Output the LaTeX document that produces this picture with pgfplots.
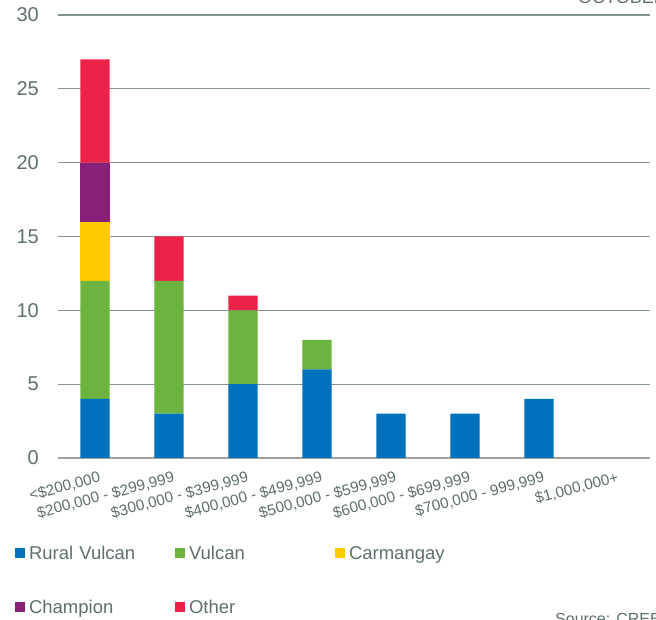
\documentclass[border=0pt]{standalone}
\usepackage{pgfplots}
\pgfplotsset{compat=1.18}
\usepackage{fontspec}
\setmainfont{Liberation Sans}
\definecolor{cBlue}{RGB}{0,114,188}
\definecolor{cGreen}{RGB}{109,179,63}
\definecolor{cYellow}{RGB}{255,204,0}
\definecolor{cPurple}{RGB}{137,32,120}
\definecolor{cRed}{RGB}{237,34,72}
\definecolor{txtgray}{RGB}{95,110,110}
\definecolor{gridgray}{RGB}{130,148,142}
\definecolor{axgray}{RGB}{160,160,160}
\begin{document}
\begin{tikzpicture}[x=1pt,y=1pt]
\useasboundingbox (0,0) rectangle (656,620);
\clip (0,0) rectangle (656,620);
\node[anchor=base west, text=txtgray, font=\fontsize{18pt}{20pt}\selectfont, inner sep=0pt] at (578,616.5) {OCTOBER 2017};
\node[anchor=base west, text=txtgray, font=\fontsize{16pt}{18pt}\selectfont, inner sep=0pt] at (555,-4.5) {Source: CREB};
\begin{axis}[
  at={(58pt,162pt)}, anchor=south west,
  scale only axis, width=592pt, height=443pt,
  xmin=-0.5, xmax=7.5, ymin=0, ymax=30,
  ybar stacked, bar width=29.3pt,
  xtick={0,...,7},
  xticklabels={{<\$200,000},{\$200,000 - \$299,999},{\$300,000 - \$399,999},{\$400,000 - \$499,999},{\$500,000 - \$599,999},{\$600,000 - \$699,999},{\$700,000 - 999,999},{\$1,000,000+}},
  xticklabel style={anchor=north east, rotate=15, inner sep=0pt, yshift=-13pt, font=\fontsize{15.3pt}{17pt}\selectfont, text=txtgray},
  ytick={0,5,...,30},
  yticklabel style={anchor=east, inner sep=0pt, xshift=-19pt, font=\fontsize{20pt}{22pt}\selectfont, text=txtgray},
  major tick length=0pt, tick style={draw=none},
  ymajorgrids, grid style={color=gridgray, line width=1.2pt},
  axis lines*=left,
  y axis line style={draw=none},
  x axis line style={color=axgray, line width=1.6pt},
  legend columns=3,
  legend style={at={(axis description cs:-0.0726,-0.197)}, anchor=north west,
    draw=none, fill=none, inner sep=0pt, outer sep=0pt,
    font=\fontsize{18.5pt}{20pt}\selectfont, text=txtgray,
    nodes={inner sep=0pt, text height=14pt, text depth=4pt},
    row sep=36pt,
    /tikz/every odd column/.append style={column sep=4pt},
    /tikz/every even column/.append style={text width=146pt}},
  legend image code/.code={\fill[#1] (0pt,-4pt) rectangle (10pt,6pt);},
  /pgf/number format/assume math mode=true,
]
\addplot[fill=cBlue, draw=none] coordinates {(0,4) (1,3) (2,5) (3,6) (4,3) (5,3) (6,4) (7,0)};
\addplot[fill=cGreen, draw=none] coordinates {(0,8) (1,9) (2,5) (3,2) (4,0) (5,0) (6,0) (7,0)};
\addplot[fill=cYellow, draw=none] coordinates {(0,4) (1,0) (2,0) (3,0) (4,0) (5,0) (6,0) (7,0)};
\addplot[fill=cPurple, draw=none] coordinates {(0,4) (1,0) (2,0) (3,0) (4,0) (5,0) (6,0) (7,0)};
\addplot[fill=cRed, draw=none] coordinates {(0,7) (1,3) (2,1) (3,0) (4,0) (5,0) (6,0) (7,0)};
\legend{Rural Vulcan, Vulcan, Carmangay, Champion, Other}
\end{axis}
\end{tikzpicture}
\end{document}
